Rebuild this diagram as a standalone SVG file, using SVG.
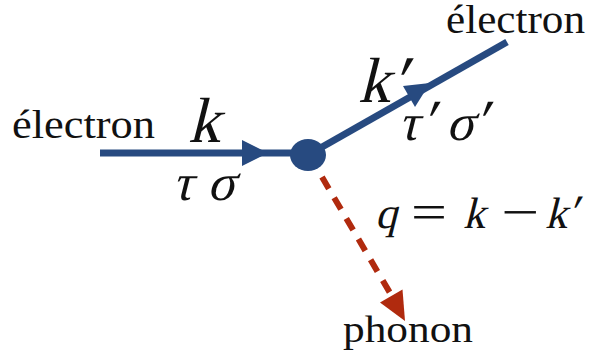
<svg xmlns="http://www.w3.org/2000/svg" width="591" height="362" viewBox="0 0 591 362">
<style>
.lbl{font-family:"Liberation Serif","Times New Roman",serif;fill:#111;}
.m{font-family:"Liberation Serif","Times New Roman",serif;fill:#111;}
.el{stroke:#274a80;stroke-width:7;fill:none;}
.ph{stroke:#b02a0e;stroke-width:6;fill:none;stroke-dasharray:13.5 10.5;}
</style>
<rect width="591" height="362" fill="#fff"/>
<g id="connectors">
  <line class="el" x1="100" y1="153" x2="300" y2="153"/>
  <polygon points="242,140 268,153 242,166" fill="#274a80"/>
  <line class="el" x1="308" y1="155" x2="507" y2="42"/>
  <polygon points="403,86 430,83 415,107" fill="#274a80"/>
  <line class="ph" x1="322" y1="177" x2="393" y2="298"/>
  <polygon points="380,302.5 402.5,289.5 405,321" fill="#b02a0e"/>
</g>
<g id="vertex">
  <ellipse cx="308" cy="155" rx="18" ry="16" fill="#274a80"/>
</g>
<g id="electron-in">
  <text class="lbl" x="12" y="138" font-size="40" textLength="143" lengthAdjust="spacingAndGlyphs">électron</text>
</g>
<g id="electron-out">
  <text class="lbl" x="446" y="33" font-size="40" textLength="139" lengthAdjust="spacingAndGlyphs">électron</text>
</g>
<g id="phonon">
  <text class="lbl" x="343" y="342" font-size="38" textLength="130" lengthAdjust="spacingAndGlyphs">phonon</text>
</g>
<g id="label-k" transform="translate(188,142) skewX(-14)">
  <text class="m" x="0" y="0" font-size="64">k</text>
</g>
<g id="label-tau-sigma" transform="translate(172,200) skewX(-14)">
  <text class="m" y="0" font-size="52"><tspan x="0">τ</tspan><tspan x="35">σ</tspan></text>
</g>
<g id="label-kprime" transform="translate(358,102) skewX(-14)">
  <text class="m" x="0" y="0" font-size="64">k<tspan dx="1" dy="2" font-size="70">′</tspan></text>
</g>
<g id="label-tau-sigma-prime" transform="translate(398,140) skewX(-14)">
  <text class="m" y="0" font-size="52"><tspan x="0">τ</tspan><tspan x="23" dy="1" font-size="60">′</tspan><tspan x="48" dy="-1">σ</tspan><tspan x="76" dy="1" font-size="60">′</tspan></text>
</g>
<g id="label-q" transform="translate(375,228) skewX(-14)">
  <text class="m" y="0" font-size="44"><tspan x="0">q</tspan><tspan x="88">k</tspan><tspan x="170">k</tspan><tspan x="192" font-size="48">′</tspan></text>
</g>
<g id="label-q-ops">
  <text class="m" x="411" y="229" font-size="50" textLength="36" lengthAdjust="spacingAndGlyphs">=</text>
  <text class="m" x="501" y="229" font-size="50" textLength="38" lengthAdjust="spacingAndGlyphs">−</text>
</g>
</svg>
